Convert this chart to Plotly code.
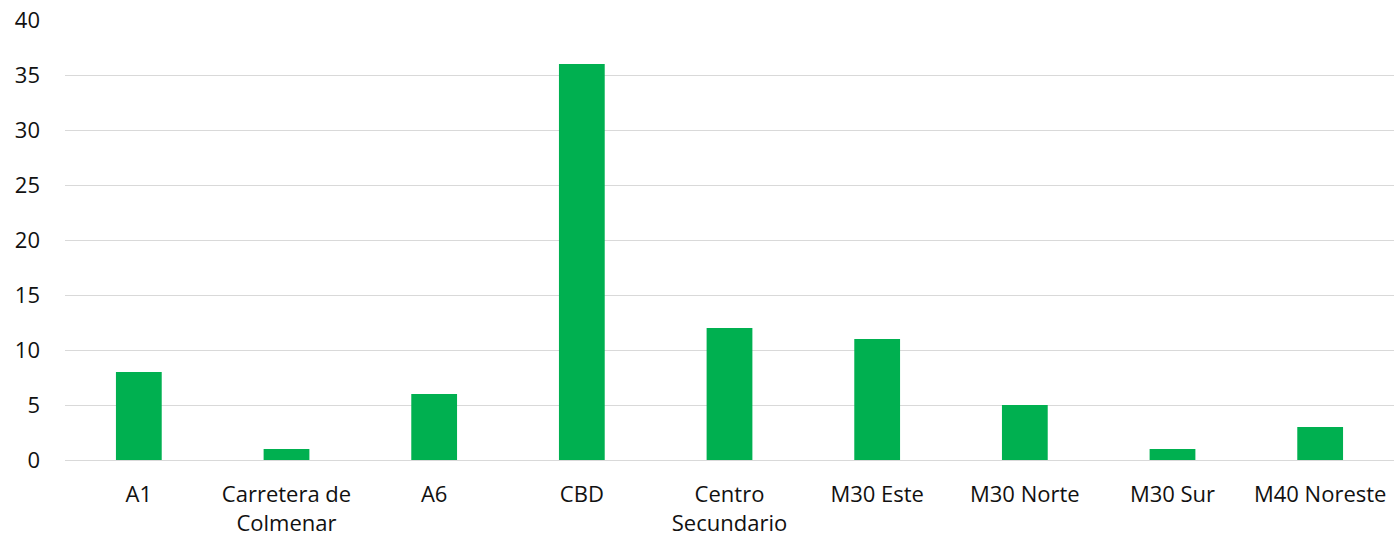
import plotly.graph_objects as go

categories = ["A1", "Carretera de<br>Colmenar", "A6", "CBD", "Centro<br>Secundario",
              "M30 Este", "M30 Norte", "M30 Sur", "M40 Noreste"]
values = [8, 1, 6, 36, 12, 11, 5, 1, 3]
y_ticks = [0, 5, 10, 15, 20, 25, 30, 35, 40]

fig = go.Figure(go.Bar(x=categories, y=values, marker_color="#00B050",
                       marker_line_width=0, width=0.31))

fig.update_layout(
    width=1396, height=538,
    margin=dict(l=65, r=2, t=20, b=78),
    plot_bgcolor="white", paper_bgcolor="white",
    font=dict(family="Open Sans, sans-serif", size=22, color="#111111"),
    showlegend=False,
)
fig.update_yaxes(range=[0, 40], tickvals=y_ticks, showgrid=True, gridcolor="#D9D9D9",
                 gridwidth=1, zeroline=False, showline=False, ticks="",
                 ticklabelstandoff=24)
fig.update_xaxes(showline=True, linecolor="#D9D9D9", linewidth=1, ticks="",
                 tickangle=0, ticklabelstandoff=15)

fig.write_html("out.html")
